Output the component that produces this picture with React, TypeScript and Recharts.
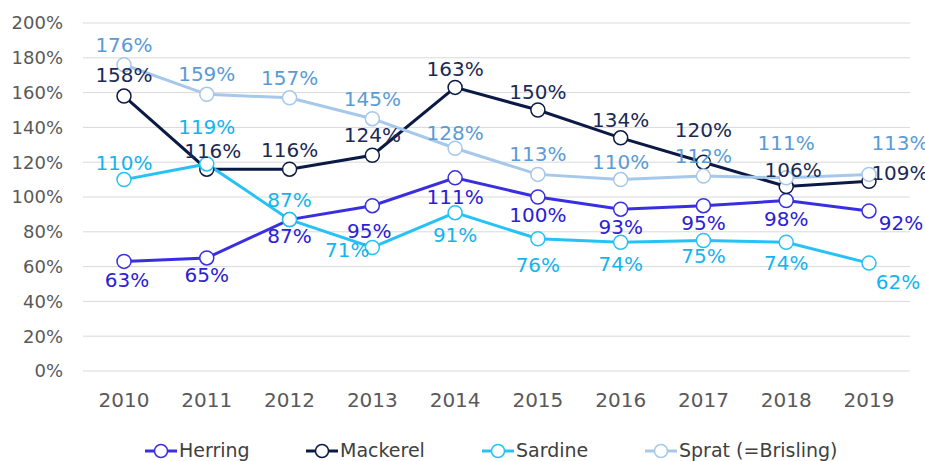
import React from "react";
import { LineChart, Line, XAxis, YAxis, CartesianGrid } from "recharts";

const years = ["2010", "2011", "2012", "2013", "2014", "2015", "2016", "2017", "2018", "2019"];
const herring = [63, 65, 87, 95, 111, 100, 93, 95, 98, 92];
const mackerel = [158, 116, 116, 124, 163, 150, 134, 120, 106, 109];
const sardine = [110, 119, 87, 71, 91, 76, 74, 75, 74, 62];
const sprat = [176, 159, 157, 145, 128, 113, 110, 112, 111, 113];
const yTicks = [0, 20, 40, 60, 80, 100, 120, 140, 160, 180, 200];

const data = years.map((y, i) => ({
  year: y,
  herring: herring[i],
  mackerel: mackerel[i],
  sardine: sardine[i],
  sprat: sprat[i],
}));

// label placement offsets [dx, dy] relative to point centre
const herringOff = [[3, 19], [0, 17], [0, 16], [-3, 25], [0, 19], [0, 18], [0, 18], [0, 17], [0, 19], [32, 12]];
const mackerelOff = [[0, -21], [6, -18], [0, -19], [0, -20], [0, -18], [0, -18], [0, -18], [0, -32], [7, -17], [31, -8]];
const sardineOff = [[0, -17], [0, -37], [0, -20], [-25, 3], [0, 22], [0, 26], [0, 22], [0, 15], [0, 21], [29, 19]];
const spratOff = [[0, -20], [0, -20], [0, -20], [0, -20], [0, -15], [0, -20], [0, -18], [0, -20], [0, -35], [31, -31]];

const FONT = "'DejaVu Sans', sans-serif";

const makeLabel = (offs: number[][], color: string) => (props: any) => {
  const { x, y, index, value } = props;
  const o = offs[index] || [0, -20];
  return (
    <text
      x={x + o[0]}
      y={y + o[1]}
      textAnchor="middle"
      dominantBaseline="central"
      fill={color}
      fontSize={20}
      fontFamily={FONT}
    >
      {value}%
    </text>
  );
};

const series = [
  { key: "herring", name: "Herring", color: "#3A2FE0", labelColor: "#2B20D6", offs: herringOff },
  { key: "mackerel", name: "Mackerel", color: "#0B1A45", labelColor: "#1B2A55", offs: mackerelOff },
  { key: "sardine", name: "Sardine", color: "#27C2F5", labelColor: "#14B4EE", offs: sardineOff },
  { key: "sprat", name: "Sprat (=Brisling)", color: "#A6C8EA", labelColor: "#5B9BD5", offs: spratOff },
];

const legendLeft = [145, 306, 482, 645];

export default function App() {
  return (
    <div style={{ position: "absolute", left: 0, top: 0, width: 925, height: 461, overflow: "hidden", background: "#fff" }}>
      <LineChart width={925} height={461} data={data} margin={{ top: 23, right: 15, bottom: 50, left: 0 }}>
        <CartesianGrid vertical={false} stroke="#D9D9D9" strokeWidth={1} />
        <XAxis
          dataKey="year"
          axisLine={false}
          tickLine={false}
          tickSize={0}
          tickMargin={22}
          height={40}
          padding={{ left: 41, right: 41 }}
          tick={{ fill: "#595959", fontSize: 20, fontFamily: FONT }}
        />
        <YAxis
          domain={[0, 200]}
          ticks={yTicks}
          tickFormatter={(v: number) => `${v}%`}
          axisLine={false}
          tickLine={false}
          tickSize={0}
          tickMargin={20}
          width={83}
          tick={{ fill: "#595959", fontSize: 18, fontFamily: FONT }}
        />
        {series.map((s) => (
          <Line
            key={s.key}
            dataKey={s.key}
            stroke={s.color}
            strokeWidth={3}
            isAnimationActive={false}
            dot={{ r: 7, fill: "#fff", stroke: s.color, strokeWidth: 1.5 }}
            label={makeLabel(s.offs, s.labelColor)}
          />
        ))}
      </LineChart>
      <svg width={925} height={461} style={{ position: "absolute", left: 0, top: 0, pointerEvents: "none" }}>
        {series.map((s, i) => (
          <g key={s.key}>
            <line x1={legendLeft[i]} y1={451} x2={legendLeft[i] + 32} y2={451} stroke={s.color} strokeWidth={3} />
            <circle cx={legendLeft[i] + 16} cy={451} r={6.5} fill="#fff" stroke={s.color} strokeWidth={1.5} />
            <text x={legendLeft[i] + 34} y={457} fontSize={19} fontFamily={FONT} fill="#404040">
              {s.name}
            </text>
          </g>
        ))}
      </svg>
    </div>
  );
}
